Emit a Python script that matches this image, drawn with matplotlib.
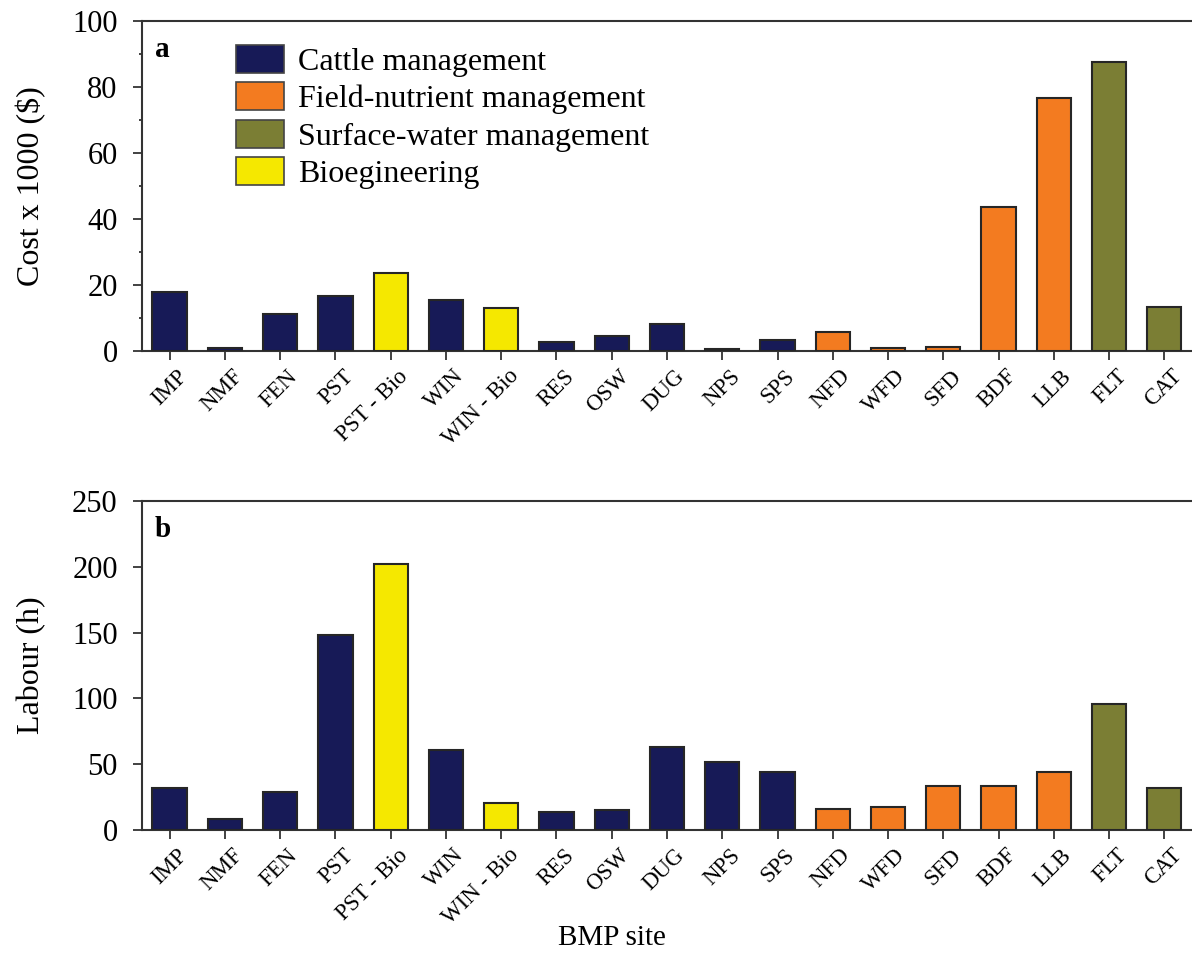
import matplotlib
matplotlib.use('Agg')
import matplotlib.pyplot as plt
import matplotlib.transforms as mtransforms
from matplotlib.patches import Patch
from matplotlib.ticker import MultipleLocator

plt.rcParams['font.family'] = ['Liberation Serif', 'DejaVu Serif']

sites = ['IMP', 'NMF', 'FEN', 'PST', 'PST - Bio', 'WIN', 'WIN - Bio', 'RES',
         'OSW', 'DUG', 'NPS', 'SPS', 'NFD', 'WFD', 'SFD', 'BDF', 'LLB',
         'FLT', 'CAT']
groups = ['cattle', 'cattle', 'cattle', 'cattle', 'bio', 'cattle', 'bio',
          'cattle', 'cattle', 'cattle', 'cattle', 'cattle', 'field', 'field',
          'field', 'field', 'field', 'water', 'water']
cost = [18.0, 1.0, 11.1, 16.8, 23.5, 15.5, 12.9, 2.8, 4.6, 8.2, 0.7, 3.4,
        5.8, 1.0, 1.3, 43.5, 76.6, 87.6, 13.3]
labour = [32.1, 8.4, 29.1, 148.2, 202.1, 61.0, 20.8, 13.4, 15.2, 63.1, 51.9,
          44.3, 16.2, 17.2, 33.4, 33.4, 44.1, 95.7, 31.9]

group_names = ['cattle', 'field', 'water', 'bio']
group_labels = ['Cattle management', 'Field-nutrient management',
                'Surface-water management', 'Bioegineering']
palette = {'cattle': '#171a57', 'field': '#f37b20',
           'water': '#7b7e34', 'bio': '#f5e800'}

edge = '#262626'
spine_c = '#333333'

fig = plt.figure(figsize=(11.92, 9.57), dpi=100)
ax1 = fig.add_axes([0.1191, 0.6332, 0.8809, 0.3448])
ax2 = fig.add_axes([0.1191, 0.1327, 0.8809, 0.3438])

x = list(range(len(sites)))
colors = [palette[g] for g in groups]

# nudge the slanted site names a little to the right of their ticks
shift = mtransforms.ScaledTranslation(0.07, 0, fig.dpi_scale_trans)


def style(ax, values, ymax, major, minor, ylabel, tag):
    ax.bar(x, values, width=0.62, color=colors, edgecolor=edge, linewidth=1.5,
           zorder=3)
    ax.set_xlim(-0.5, 18.5)
    ax.set_ylim(0, ymax)
    ax.yaxis.set_major_locator(MultipleLocator(major))
    if minor:
        ax.yaxis.set_minor_locator(MultipleLocator(minor))
    ax.spines['right'].set_visible(False)
    for s in ('left', 'top', 'bottom'):
        ax.spines[s].set_color(spine_c)
        ax.spines[s].set_linewidth(1.5)
    ax.tick_params(axis='y', which='major', direction='out', length=6.5,
                   width=1.3, color=spine_c, labelsize=22, pad=11)
    ax.tick_params(axis='y', which='minor', direction='out', length=2.5,
                   width=1.3, color=spine_c)
    ax.tick_params(axis='x', direction='out', length=6.5, width=1.3,
                   color=spine_c, pad=4)
    ax.set_xticks(x)
    ax.set_xticklabels(sites, rotation=45, ha='right', va='top',
                       rotation_mode='anchor', fontsize=16.5)
    for lab in ax.get_xticklabels():
        lab.set_transform(lab.get_transform() + shift)
    ax.set_ylabel(ylabel, fontsize=23)
    ax.yaxis.set_label_coords(-0.0913, 0.5)
    ax.text(0.012, 0.955, tag, transform=ax.transAxes, fontsize=21,
            fontweight='bold', va='top', ha='left')


style(ax1, cost, 100, 20, 10, 'Cost x 1000 ($)', 'a')
style(ax2, labour, 250, 50, None, 'Labour (h)', 'b')

handles = [Patch(facecolor=palette[g], edgecolor='#444444', linewidth=1.2)
           for g in group_names]
ax1.legend(handles, group_labels, loc='upper left',
           bbox_to_anchor=(0.0895, 0.928), frameon=False, fontsize=23,
           handlelength=1.5, handleheight=0.97, labelspacing=0.175,
           handletextpad=0.45, borderpad=0, borderaxespad=0)

fig.text(612 / 1192, 1 - 938 / 957, 'BMP site', fontsize=21, ha='center',
         va='center')

fig.savefig('out.png', dpi=100)
